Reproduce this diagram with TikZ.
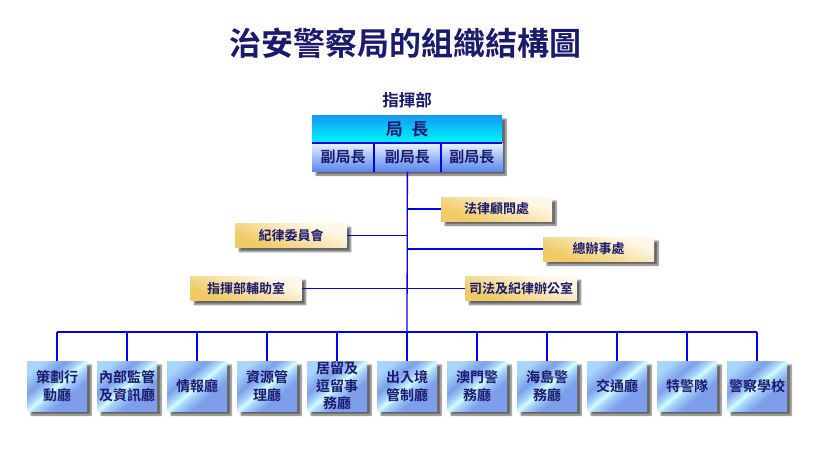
\documentclass[tikz,border=0pt]{standalone}
\usepackage{fontspec}
\newfontfamily\cjk{Noto Sans CJK TC}[BoldFont={Noto Sans CJK TC Bold}]
\usetikzlibrary{shadows.blur}
\definecolor{navy}{HTML}{1A1A6E}
\definecolor{linkblue}{HTML}{0000FF}
\definecolor{gA}{HTML}{F0CA66}
\definecolor{gB}{HTML}{FFF8EA}
\definecolor{bA}{HTML}{7E9EEA}
\definecolor{bB}{HTML}{A6D6FA}
\definecolor{bC}{HTML}{D6FAFF}
\definecolor{cTop}{HTML}{1496F4}
\definecolor{cBot}{HTML}{00FAFF}
\definecolor{sTop}{HTML}{E6F2FF}
\definecolor{sBot}{HTML}{5A86EE}
\pgfdeclarehorizontalshading{bluebox}{100bp}{color(0bp)=(bB); color(25bp)=(bB); color(38bp)=(bA); color(46bp)=(bB); color(50bp)=(bC); color(54bp)=(bB); color(64bp)=(bA); color(75bp)=(bA); color(100bp)=(bA)}
\pgfdeclarehorizontalshading{goldbox}{100bp}{color(0bp)=(gA); color(30bp)=(gA); color(70bp)=(gB); color(100bp)=(gB)}
\begin{document}
\begin{tikzpicture}[x=1pt,y=-1pt,
  every node/.style={font=\cjk\bfseries, text=navy, inner sep=0pt},
  shad/.style={blur shadow={shadow xshift=4pt, shadow yshift=-4pt, shadow blur steps=6, shadow opacity=60}},
  goldbox/.style={shad, shading=goldbox, shading angle=70, minimum width=111pt, minimum height=24pt, font=\cjk\bfseries\fontsize{13}{15}\selectfont},
  bluebox/.style={shad, shading=bluebox, shading angle=-50, minimum width=60pt, minimum height=50pt, align=center, font=\cjk\bfseries\fontsize{14}{17.5}\selectfont},
  deprow/.style={top color=sTop, bottom color=sBot, minimum height=28pt, font=\cjk\bfseries\fontsize{15}{17}\selectfont, anchor=north west},
  link/.style={draw=linkblue, line width=1.3pt},
  divider/.style={draw=linkblue, line width=1.8pt}]
\useasboundingbox (0,0) rectangle (814,450);
% title
\node[font=\cjk\bfseries\fontsize{32}{35}\selectfont] (title) at (405,43) {治安警察局的組織結構圖};
\node[font=\cjk\bfseries\fontsize{16.5}{18}\selectfont] (hq) at (407,100) {指揮部};
% top box shadow
\fill[shad, white] (312,115) rectangle (502,171);
% top box
\node[top color=cTop, bottom color=cBot, minimum width=190pt, minimum height=28pt, font=\cjk\bfseries\fontsize{17}{19}\selectfont] (chief) at (407,129) {局\hspace{0.5em}長};
\node[deprow, minimum width=62pt] (dep1) at (chief.south west) {副局長};
\node[deprow, minimum width=66pt] (dep2) at (dep1.north east) {副局長};
\node[deprow, minimum width=62pt] (dep3) at (dep2.north east) {副局長};
\path[divider] (chief.south west) -- (chief.south east);
\path[divider] (dep1.north east) -- (dep1.south east);
\path[divider] (dep2.north east) -- (dep2.south east);
% side boxes
\node[goldbox] (legal) at (496.5,209) {法律顧問處};
\node[goldbox] (disc) at (291,235.5) {紀律委員會};
\node[goldbox] (gen) at (598.5,249) {總辦事處};
\node[goldbox] (aux) at (246,288.5) {指揮部輔助室};
\node[goldbox] (jud) at (521,288.5) {司法及紀律辦公室};
% bottom boxes
\coordinate (hub) at (407,332);
\foreach \i/\t in {1/{策劃行\\動廳},2/{內部監管\\及資訊廳},3/{情報廳},4/{資源管\\理廳},5/{居留及\\逗留事\\務廳},6/{出入境\\管制廳},7/{澳門警\\務廳},8/{海島警\\務廳},9/{交通廳},10/{特警隊},11/{警察學校}}{
  \node[bluebox] (b\i) at ({407+70*(\i-6)},386) {\t};
}
% connectors
\draw[link] (dep2.south) -- (hub);
\draw[link] (legal.west) -- (legal.west -| hub);
\draw[link] (disc.east) -- (disc.east -| hub);
\draw[link] (gen.west) -- (gen.west -| hub);
\draw[link] (aux.east) -- (jud.west);
\draw[link] (b1.north |- hub) -- (b11.north |- hub);
\foreach \i in {1,...,11}{
  \draw[link] (b\i.north) -- (b\i.north |- hub);
}
\end{tikzpicture}
\end{document}
